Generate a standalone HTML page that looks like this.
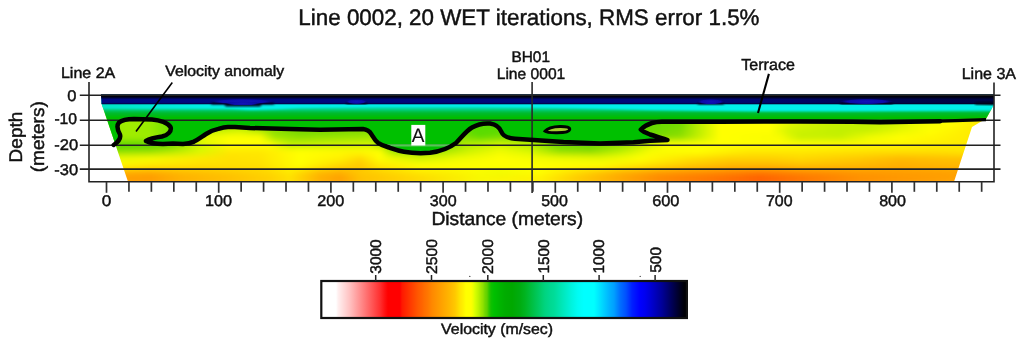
<!DOCTYPE html>
<html><head><meta charset="utf-8">
<style>
html,body{margin:0;padding:0;background:#fff;}
body{width:1024px;height:345px;overflow:hidden;position:relative;}
svg{position:absolute;left:0;top:0;will-change:transform;}
text{font-family:"Liberation Sans",sans-serif;fill:#111;stroke:#111;stroke-width:0.45px;text-rendering:geometricPrecision;}
</style></head>
<body>
<svg width="1024" height="345" viewBox="0 0 1024 345">

<defs>
  <clipPath id="clip"><path d="M101,94.5 L994,94.5 L994,104 L991,110 L986,119 L982,121 L972,127 L954,181.8 L128,181.8 L101.5,103.5 Z"/></clipPath>
  <filter id="bl" x="-5%" y="-20%" width="110%" height="140%"><feGaussianBlur stdDeviation="2 3"/></filter>
  <filter id="bl2" x="-5%" y="-20%" width="110%" height="140%"><feGaussianBlur stdDeviation="1.2 0.8"/></filter>
  <linearGradient id="yg" x1="0" y1="118" x2="0" y2="182" gradientUnits="userSpaceOnUse">
    <stop offset="0" stop-color="#b8e000"/>
    <stop offset="0.2" stop-color="#d8ea00"/>
    <stop offset="0.38" stop-color="#f4ee00"/>
    <stop offset="0.55" stop-color="#ffe600"/>
    <stop offset="0.72" stop-color="#ffd400"/>
    <stop offset="0.86" stop-color="#ffb800"/>
    <stop offset="1" stop-color="#ff9c00"/>
  </linearGradient>
  <linearGradient id="gg" x1="0" y1="103" x2="0" y2="120" gradientUnits="userSpaceOnUse">
    <stop offset="0" stop-color="#00f2f0"/>
    <stop offset="0.16" stop-color="#00eee4"/>
    <stop offset="0.29" stop-color="#00dcb0"/>
    <stop offset="0.44" stop-color="#00c860"/>
    <stop offset="0.6" stop-color="#00b828"/>
    <stop offset="0.8" stop-color="#00bc08"/><stop offset="1" stop-color="#00c000"/>
  </linearGradient>
  <linearGradient id="cyo" x1="100" y1="0" x2="1000" y2="0" gradientUnits="userSpaceOnUse"><stop offset="0" stop-color="#00e4c4"/><stop offset="0.03" stop-color="#00e8cc"/><stop offset="0.08" stop-color="#00ecdc"/><stop offset="0.14" stop-color="#00f0ea"/><stop offset="1" stop-color="#00f0ea"/></linearGradient>
  <filter id="bl3" x="-5%" y="-50%" width="110%" height="200%"><feGaussianBlur stdDeviation="3 1.3"/></filter>
  <linearGradient id="cb" x1="322" y1="0" x2="687" y2="0" gradientUnits="userSpaceOnUse">
    <stop offset="0.0000" stop-color="#ffffff"/>
    <stop offset="0.0384" stop-color="#ffffff"/>
    <stop offset="0.0438" stop-color="#fff0f0"/>
    <stop offset="0.0548" stop-color="#ffe0e0"/>
    <stop offset="0.0658" stop-color="#ffd0d0"/>
    <stop offset="0.0767" stop-color="#ffc0c0"/>
    <stop offset="0.0904" stop-color="#ffa8a8"/>
    <stop offset="0.1041" stop-color="#ff9090"/>
    <stop offset="0.1178" stop-color="#ff7878"/>
    <stop offset="0.1315" stop-color="#ff6060"/>
    <stop offset="0.1452" stop-color="#ff4848"/>
    <stop offset="0.1589" stop-color="#ff3030"/>
    <stop offset="0.1726" stop-color="#ff1010"/>
    <stop offset="0.1808" stop-color="#ff0000"/>
    <stop offset="0.2137" stop-color="#ff0000"/>
    <stop offset="0.2192" stop-color="#ff1800"/>
    <stop offset="0.2301" stop-color="#ff2800"/>
    <stop offset="0.2411" stop-color="#ff3800"/>
    <stop offset="0.2521" stop-color="#ff4800"/>
    <stop offset="0.2630" stop-color="#ff5800"/>
    <stop offset="0.2740" stop-color="#ff6400"/>
    <stop offset="0.2795" stop-color="#ff6c00"/>
    <stop offset="0.2904" stop-color="#ff7800"/>
    <stop offset="0.3014" stop-color="#ff8800"/>
    <stop offset="0.3178" stop-color="#ff9800"/>
    <stop offset="0.3342" stop-color="#ffa800"/>
    <stop offset="0.3507" stop-color="#ffb800"/>
    <stop offset="0.3644" stop-color="#ffc800"/>
    <stop offset="0.3726" stop-color="#ffd800"/>
    <stop offset="0.3781" stop-color="#ffe400"/>
    <stop offset="0.3863" stop-color="#fff000"/>
    <stop offset="0.3945" stop-color="#ffff00"/>
    <stop offset="0.4082" stop-color="#ffff00"/>
    <stop offset="0.4137" stop-color="#f0ff00"/>
    <stop offset="0.4192" stop-color="#d8ff00"/>
    <stop offset="0.4247" stop-color="#c8f800"/>
    <stop offset="0.4301" stop-color="#b8f000"/>
    <stop offset="0.4356" stop-color="#a0e800"/>
    <stop offset="0.4411" stop-color="#90e000"/>
    <stop offset="0.4466" stop-color="#70d800"/>
    <stop offset="0.4521" stop-color="#60d000"/>
    <stop offset="0.4575" stop-color="#30c800"/>
    <stop offset="0.4630" stop-color="#10c000"/>
    <stop offset="0.4712" stop-color="#00c000"/>
    <stop offset="0.4877" stop-color="#00b400"/>
    <stop offset="0.5014" stop-color="#00ac00"/>
    <stop offset="0.5205" stop-color="#00a800"/>
    <stop offset="0.5425" stop-color="#00ac10"/>
    <stop offset="0.5562" stop-color="#00b420"/>
    <stop offset="0.5699" stop-color="#00bc38"/>
    <stop offset="0.5836" stop-color="#00c450"/>
    <stop offset="0.5973" stop-color="#00cc68"/>
    <stop offset="0.6110" stop-color="#00d480"/>
    <stop offset="0.6247" stop-color="#00d890"/>
    <stop offset="0.6356" stop-color="#00dc98"/>
    <stop offset="0.6521" stop-color="#00e4b0"/>
    <stop offset="0.6685" stop-color="#00ecc8"/>
    <stop offset="0.6849" stop-color="#00f4e0"/>
    <stop offset="0.7014" stop-color="#00fcf4"/>
    <stop offset="0.7178" stop-color="#00ffff"/>
    <stop offset="0.7452" stop-color="#00ffff"/>
    <stop offset="0.7562" stop-color="#00ecff"/>
    <stop offset="0.7671" stop-color="#00d8ff"/>
    <stop offset="0.7781" stop-color="#00c4ff"/>
    <stop offset="0.7890" stop-color="#00b0ff"/>
    <stop offset="0.8000" stop-color="#00a0ff"/>
    <stop offset="0.8164" stop-color="#0070ff"/>
    <stop offset="0.8329" stop-color="#0050ff"/>
    <stop offset="0.8493" stop-color="#0020ff"/>
    <stop offset="0.8712" stop-color="#0000ff"/>
    <stop offset="0.8849" stop-color="#0000f0"/>
    <stop offset="0.8986" stop-color="#0000d8"/>
    <stop offset="0.9151" stop-color="#0000b8"/>
    <stop offset="0.9315" stop-color="#000098"/>
    <stop offset="0.9479" stop-color="#000070"/>
    <stop offset="0.9644" stop-color="#000048"/>
    <stop offset="0.9808" stop-color="#000020"/>
    <stop offset="0.9918" stop-color="#000008"/>
    <stop offset="1.0000" stop-color="#000004"/>
  </linearGradient>
</defs>

<g clip-path="url(#clip)">
<defs><linearGradient id="r0" x1="100" y1="0" x2="1000" y2="0" gradientUnits="userSpaceOnUse"><stop offset="0.0000" stop-color="#90e800"/><stop offset="0.0333" stop-color="#a0ec00"/><stop offset="0.0556" stop-color="#98ec00"/><stop offset="0.0778" stop-color="#70e000"/><stop offset="0.0889" stop-color="#a0e800"/><stop offset="0.4000" stop-color="#a0e800"/><stop offset="0.4167" stop-color="#58dc00"/><stop offset="0.4444" stop-color="#58dc00"/><stop offset="0.4667" stop-color="#a0e800"/><stop offset="0.6000" stop-color="#60d800"/><stop offset="0.6444" stop-color="#70dc00"/><stop offset="0.6667" stop-color="#c0f000"/><stop offset="0.6889" stop-color="#ffff00"/><stop offset="0.7444" stop-color="#ffff00"/><stop offset="0.7778" stop-color="#d8f400"/><stop offset="0.8111" stop-color="#c8f000"/><stop offset="0.8444" stop-color="#c0f000"/><stop offset="0.8778" stop-color="#c8f000"/><stop offset="0.9111" stop-color="#f0fc00"/><stop offset="0.9444" stop-color="#ffff00"/><stop offset="0.9778" stop-color="#ffe800"/></linearGradient><linearGradient id="r1" x1="100" y1="0" x2="1000" y2="0" gradientUnits="userSpaceOnUse"><stop offset="0.0000" stop-color="#90e800"/><stop offset="0.0333" stop-color="#a0ec00"/><stop offset="0.0556" stop-color="#98ec00"/><stop offset="0.0778" stop-color="#70e000"/><stop offset="0.0889" stop-color="#a8ec00"/><stop offset="0.1111" stop-color="#b0ec00"/><stop offset="0.1556" stop-color="#d0f400"/><stop offset="0.1889" stop-color="#90e000"/><stop offset="0.2222" stop-color="#70d800"/><stop offset="0.3000" stop-color="#80dc00"/><stop offset="0.4000" stop-color="#90e000"/><stop offset="0.4111" stop-color="#58dc00"/><stop offset="0.4444" stop-color="#58dc00"/><stop offset="0.4667" stop-color="#a0e800"/><stop offset="0.6000" stop-color="#60d800"/><stop offset="0.6444" stop-color="#80dc00"/><stop offset="0.6667" stop-color="#c0f000"/><stop offset="0.6889" stop-color="#ffff00"/><stop offset="0.7444" stop-color="#ffff00"/><stop offset="0.7667" stop-color="#d0f400"/><stop offset="0.8222" stop-color="#c0f000"/><stop offset="0.8556" stop-color="#c8f000"/><stop offset="0.8889" stop-color="#e8f800"/><stop offset="0.9222" stop-color="#ffff00"/><stop offset="0.9778" stop-color="#ffe800"/></linearGradient><linearGradient id="r2" x1="100" y1="0" x2="1000" y2="0" gradientUnits="userSpaceOnUse"><stop offset="0.0000" stop-color="#60d800"/><stop offset="0.0222" stop-color="#a0ec00"/><stop offset="0.0556" stop-color="#a0ec00"/><stop offset="0.0778" stop-color="#80e000"/><stop offset="0.0889" stop-color="#b8f000"/><stop offset="0.1222" stop-color="#f0fc00"/><stop offset="0.1444" stop-color="#ffff00"/><stop offset="0.1778" stop-color="#ffff00"/><stop offset="0.1944" stop-color="#a0e800"/><stop offset="0.2222" stop-color="#90e000"/><stop offset="0.3000" stop-color="#a0e800"/><stop offset="0.4000" stop-color="#90e000"/><stop offset="0.4222" stop-color="#60dc00"/><stop offset="0.4556" stop-color="#80e000"/><stop offset="0.4778" stop-color="#a0e800"/><stop offset="0.6000" stop-color="#70d800"/><stop offset="0.6444" stop-color="#90e000"/><stop offset="0.6667" stop-color="#c8f000"/><stop offset="0.6889" stop-color="#ffff00"/><stop offset="0.7556" stop-color="#f8fc00"/><stop offset="0.7778" stop-color="#c8f000"/><stop offset="0.8222" stop-color="#c8f000"/><stop offset="0.8556" stop-color="#f0fc00"/><stop offset="0.8889" stop-color="#ffff00"/><stop offset="0.9778" stop-color="#ffe800"/></linearGradient><linearGradient id="r3" x1="100" y1="0" x2="1000" y2="0" gradientUnits="userSpaceOnUse"><stop offset="0.0000" stop-color="#40d000"/><stop offset="0.0222" stop-color="#50d400"/><stop offset="0.0778" stop-color="#60d800"/><stop offset="0.1111" stop-color="#d8f800"/><stop offset="0.1444" stop-color="#ffff00"/><stop offset="0.1889" stop-color="#ffff00"/><stop offset="0.2111" stop-color="#c0f000"/><stop offset="0.3000" stop-color="#d0f400"/><stop offset="0.3167" stop-color="#80dc00"/><stop offset="0.3889" stop-color="#80dc00"/><stop offset="0.4056" stop-color="#b0ec00"/><stop offset="0.4444" stop-color="#d0f400"/><stop offset="0.4778" stop-color="#b0ec00"/><stop offset="0.5056" stop-color="#70dc00"/><stop offset="0.5444" stop-color="#68d800"/><stop offset="0.5778" stop-color="#90e000"/><stop offset="0.6056" stop-color="#c8f000"/><stop offset="0.6278" stop-color="#ffff00"/><stop offset="0.6667" stop-color="#ffff00"/><stop offset="0.7222" stop-color="#ffff00"/><stop offset="0.7778" stop-color="#ffff00"/><stop offset="0.8667" stop-color="#fff800"/><stop offset="0.9778" stop-color="#ffe800"/></linearGradient><linearGradient id="r4" x1="100" y1="0" x2="1000" y2="0" gradientUnits="userSpaceOnUse"><stop offset="0.0000" stop-color="#80e000"/><stop offset="0.0556" stop-color="#90e000"/><stop offset="0.1111" stop-color="#d8f800"/><stop offset="0.1444" stop-color="#ffe800"/><stop offset="0.1778" stop-color="#ffe800"/><stop offset="0.2222" stop-color="#ffff00"/><stop offset="0.2778" stop-color="#fff800"/><stop offset="0.3111" stop-color="#ffff00"/><stop offset="0.3278" stop-color="#90e000"/><stop offset="0.3778" stop-color="#a0e800"/><stop offset="0.4111" stop-color="#d0f400"/><stop offset="0.4444" stop-color="#f0fc00"/><stop offset="0.4778" stop-color="#d8f800"/><stop offset="0.5111" stop-color="#90e000"/><stop offset="0.5444" stop-color="#88dc00"/><stop offset="0.5778" stop-color="#b8f000"/><stop offset="0.6111" stop-color="#f8fc00"/><stop offset="0.6667" stop-color="#ffff00"/><stop offset="0.7222" stop-color="#ffe800"/><stop offset="0.7778" stop-color="#ffe800"/><stop offset="0.8667" stop-color="#ffe000"/><stop offset="0.9222" stop-color="#ffe000"/><stop offset="0.9778" stop-color="#ffe800"/></linearGradient><linearGradient id="r5" x1="100" y1="0" x2="1000" y2="0" gradientUnits="userSpaceOnUse"><stop offset="0.0000" stop-color="#e8f800"/><stop offset="0.0556" stop-color="#f8fc00"/><stop offset="0.1111" stop-color="#ffe800"/><stop offset="0.1444" stop-color="#ffe000"/><stop offset="0.1778" stop-color="#ffe400"/><stop offset="0.2222" stop-color="#ffff00"/><stop offset="0.2667" stop-color="#fff000"/><stop offset="0.2889" stop-color="#ffd800"/><stop offset="0.3111" stop-color="#ffff00"/><stop offset="0.3556" stop-color="#d0f400"/><stop offset="0.4000" stop-color="#f0fc00"/><stop offset="0.4444" stop-color="#ffff00"/><stop offset="0.5111" stop-color="#f0fc00"/><stop offset="0.5556" stop-color="#e8f800"/><stop offset="0.6000" stop-color="#ffff00"/><stop offset="0.6556" stop-color="#ffe000"/><stop offset="0.7000" stop-color="#ffd000"/><stop offset="0.7444" stop-color="#ffd000"/><stop offset="0.7778" stop-color="#ffd800"/><stop offset="0.8444" stop-color="#ffc800"/><stop offset="0.8889" stop-color="#ffb800"/><stop offset="0.9444" stop-color="#ffc000"/></linearGradient><linearGradient id="r6" x1="100" y1="0" x2="1000" y2="0" gradientUnits="userSpaceOnUse"><stop offset="0.0000" stop-color="#ffff00"/><stop offset="0.0556" stop-color="#ffe800"/><stop offset="0.1111" stop-color="#ffe000"/><stop offset="0.1778" stop-color="#ffe000"/><stop offset="0.2222" stop-color="#ffff00"/><stop offset="0.2667" stop-color="#ffd800"/><stop offset="0.2889" stop-color="#ffc800"/><stop offset="0.3111" stop-color="#ffe800"/><stop offset="0.3556" stop-color="#ffff00"/><stop offset="0.5556" stop-color="#ffff00"/><stop offset="0.6111" stop-color="#ffe000"/><stop offset="0.6556" stop-color="#ffc800"/><stop offset="0.7000" stop-color="#ffb800"/><stop offset="0.7444" stop-color="#ffb800"/><stop offset="0.7778" stop-color="#ffc000"/><stop offset="0.8444" stop-color="#ffb800"/><stop offset="0.8889" stop-color="#ffb000"/><stop offset="0.9444" stop-color="#ffb800"/></linearGradient><linearGradient id="r7" x1="100" y1="0" x2="1000" y2="0" gradientUnits="userSpaceOnUse"><stop offset="0.0000" stop-color="#ffb000"/><stop offset="0.0556" stop-color="#ffa800"/><stop offset="0.0889" stop-color="#ffb800"/><stop offset="0.1444" stop-color="#ffc800"/><stop offset="0.1889" stop-color="#ffd800"/><stop offset="0.2111" stop-color="#ffe800"/><stop offset="0.2444" stop-color="#ffb800"/><stop offset="0.2667" stop-color="#ffb000"/><stop offset="0.2889" stop-color="#ffc800"/><stop offset="0.3111" stop-color="#ffd000"/><stop offset="0.3556" stop-color="#ffe800"/><stop offset="0.4222" stop-color="#f8fc00"/><stop offset="0.4444" stop-color="#f0fc00"/><stop offset="0.4889" stop-color="#ffff00"/><stop offset="0.5333" stop-color="#ffd800"/><stop offset="0.5778" stop-color="#ffb000"/><stop offset="0.6222" stop-color="#ff9800"/><stop offset="0.6889" stop-color="#ff8800"/><stop offset="0.7333" stop-color="#ff7800"/><stop offset="0.7778" stop-color="#ff8800"/><stop offset="0.8444" stop-color="#ff9800"/><stop offset="0.9444" stop-color="#ffa000"/></linearGradient><linearGradient id="r8" x1="100" y1="0" x2="1000" y2="0" gradientUnits="userSpaceOnUse"><stop offset="0.0000" stop-color="#ffa000"/><stop offset="0.0556" stop-color="#ff9c00"/><stop offset="0.0889" stop-color="#ffb000"/><stop offset="0.1444" stop-color="#ffc000"/><stop offset="0.1889" stop-color="#ffd000"/><stop offset="0.2111" stop-color="#ffe000"/><stop offset="0.2444" stop-color="#ffb000"/><stop offset="0.2667" stop-color="#ffa000"/><stop offset="0.2889" stop-color="#ffc000"/><stop offset="0.3333" stop-color="#ffd000"/><stop offset="0.4222" stop-color="#f8f800"/><stop offset="0.4889" stop-color="#fff000"/><stop offset="0.5333" stop-color="#ffc800"/><stop offset="0.5778" stop-color="#ffa800"/><stop offset="0.6222" stop-color="#ff8800"/><stop offset="0.6889" stop-color="#ff7000"/><stop offset="0.7333" stop-color="#ff6000"/><stop offset="0.7778" stop-color="#ff7400"/><stop offset="0.8444" stop-color="#ff9000"/><stop offset="0.9444" stop-color="#ffa000"/></linearGradient></defs>
<g filter="url(#bl)">
<rect x="80" y="100" width="940" height="27.5" fill="url(#r0)"/>
<rect x="80" y="127" width="940" height="7.5" fill="url(#r1)"/>
<rect x="80" y="134" width="940" height="7.5" fill="url(#r2)"/>
<rect x="80" y="141" width="940" height="7.5" fill="url(#r3)"/>
<rect x="80" y="148" width="940" height="7.5" fill="url(#r4)"/>
<rect x="80" y="155" width="940" height="7.5" fill="url(#r5)"/>
<rect x="80" y="162" width="940" height="7.5" fill="url(#r6)"/>
<rect x="80" y="169" width="940" height="6.5" fill="url(#r7)"/>
<rect x="80" y="175" width="940" height="11.5" fill="url(#r8)"/>
</g>
<path d="M113.7,145 C118,142 121,138 120,134.5 C118,131 116,126 119,122.5 C122,120 128,119 134,119 L152,119.4 C160,120 168,123 170.5,127 C172,131 168,135 162,136.5 C155,137.5 150,138.5 146,141 C150,143 156,144 163,144 L173,143.6 L183,144.1 C188,143.8 191,143 194,141.6 C198,139.5 202,136.5 206,134 C210,131.5 214,129.8 218.3,128.9 C222,127.8 224,127.2 228,127 L235,127 L250,128 L290,129 L320,129.7 L363,129 C367,129.4 369.5,131 371.5,134.3 C373.5,137.5 375,140.5 378,142.8 C382,145.5 386,146.5 390,147.8 C394,149.2 398,150.8 404,151.8 C412,153.2 420,153.5 430,152.8 C440,151.5 450,147.5 456,143 C462,137 466,131 472,127.5 C478,124 484,123 490,123.5 C497,124.5 500,128 501.5,132 C503,136 507,138 515,138.7 L530,139.7 L563.5,141.9 L600,143.4 L633.5,142.2 C645,141 657,140.3 667.5,140 C664,138.6 656,136.5 650,134.5 C646,133 642.5,131.5 640.8,129.6 C643,127.5 647,124.5 652,123 C655,122.2 658,121.8 662,121.7 L720,121.7 L800,121.4 L852,121.7 L880,122.3 L940,121.2 L986,119.6 L1010,119 L1010,90 L80,90 L80,145 Z" fill="url(#gg)" filter="url(#bl2)"/>
<path d="M95,103 L1000,103 L1000,110.5 L850,111.2 L750,111.2 L650,110 L560,107.5 L480,106 L380,106 L300,107.5 L280,109 L250,110 L230,108.5 L150,108.5 L95,108 Z" fill="url(#cyo)" filter="url(#bl3)"/>
<linearGradient id="nvh" x1="100" y1="0" x2="1000" y2="0" gradientUnits="userSpaceOnUse"><stop offset="0" stop-color="#000880"/><stop offset="0.6667" stop-color="#000878"/><stop offset="0.7778" stop-color="#000664"/><stop offset="0.8889" stop-color="#00054c"/><stop offset="1" stop-color="#000440"/></linearGradient>
<linearGradient id="nvv" x1="0" y1="94" x2="0" y2="104.2" gradientUnits="userSpaceOnUse"><stop offset="0" stop-color="#000008" stop-opacity="1"/><stop offset="0.28" stop-color="#000008" stop-opacity="0.95"/><stop offset="0.42" stop-color="#000008" stop-opacity="0.35"/><stop offset="0.54" stop-color="#000008" stop-opacity="0"/><stop offset="0.82" stop-color="#000008" stop-opacity="0"/><stop offset="0.92" stop-color="#000008" stop-opacity="0.35"/><stop offset="1" stop-color="#000008" stop-opacity="0.6"/></linearGradient>
<rect x="80" y="94" width="940" height="10.2" fill="url(#nvh)"/>
<rect x="80" y="94" width="940" height="10.2" fill="url(#nvv)"/>
<radialGradient id="bb"><stop offset="0" stop-color="#1212b8"/><stop offset="0.7" stop-color="#0c0ca8"/><stop offset="1" stop-color="#080890" stop-opacity="0"/></radialGradient>
<path d="M212.5,102.2 L272.7,102.2 L274.7,104.4 L262,104.4 L260,106.5 L226,106.5 L224,104.4 L210.5,104.4 Z" fill="#000020" filter="url(#bl2)"/><ellipse cx="242.6" cy="101.55" rx="32.099999999999994" ry="2.7500000000000027" fill="url(#bb)"/><ellipse cx="243.0" cy="103.4" rx="17.0" ry="2.2" fill="url(#bb)"/>
<path d="M347.5,102.0 L365.5,102.0 L367.5,104.2 L345.5,104.2 Z" fill="#000020" filter="url(#bl2)"/><ellipse cx="356.5" cy="101.7" rx="11.0" ry="2.4000000000000012" fill="url(#bb)"/>
<path d="M699,102.4 L722.5,102.4 L724.5,104.60000000000001 L697,104.60000000000001 Z" fill="#000020" filter="url(#bl2)"/><ellipse cx="710.75" cy="101.75" rx="13.75" ry="2.7500000000000027" fill="url(#bb)"/>
<path d="M841.5,102.2 L891.5,102.2 L893.5,104.4 L839.5,104.4 Z" fill="#000020" filter="url(#bl2)"/><ellipse cx="866.5" cy="101.55" rx="27.0" ry="2.7500000000000027" fill="url(#bb)"/>
<path d="M975,102.6 L994,102.2 L994,105 L975,104.6 Z" fill="#000010" filter="url(#bl2)"/>
</g>
<g stroke="#222" stroke-width="1.6">
<line x1="79.8" y1="95.3" x2="1000.5" y2="95.3"/>
<line x1="79.8" y1="120.3" x2="1000.5" y2="120.3"/>
<line x1="79.8" y1="145.3" x2="1000.5" y2="145.3"/>
<line x1="79.8" y1="169.1" x2="1000.5" y2="169.1"/>
</g>
<path d="M387,144.2 L452,144.2 L452,146.4 L387,146.4 Z" fill="#58c458"/>
<path d="M89,82 V181.8 H994 V82.5" stroke="#222" stroke-width="1.6" fill="none"/>
<line x1="532.1" y1="82" x2="532.1" y2="193" stroke="#2a2a2a" stroke-width="1.6"/>
<path d="M113.7,145 C118,142 121,138 120,134.5 C118,131 116,126 119,122.5 C122,120 128,119 134,119 L152,119.4 C160,120 168,123 170.5,127 C172,131 168,135 162,136.5 C155,137.5 150,138.5 146,141 C150,143 156,144 163,144 L173,143.6 L183,144.1 C188,143.8 191,143 194,141.6 C198,139.5 202,136.5 206,134 C210,131.5 214,129.8 218.3,128.9 C222,127.8 224,127.2 228,127 L235,127 L250,128 L290,129 L320,129.7 L363,129 C367,129.4 369.5,131 371.5,134.3 C373.5,137.5 375,140.5 378,142.8 C382,145.5 386,146.5 390,147.8 C394,149.2 398,150.8 404,151.8 C412,153.2 420,153.5 430,152.8 C440,151.5 450,147.5 456,143 C462,137 466,131 472,127.5 C478,124 484,123 490,123.5 C497,124.5 500,128 501.5,132 C503,136 507,138 515,138.7 L530,139.7 L563.5,141.9 L600,143.4 L633.5,142.2 C645,141 657,140.3 667.5,140 C664,138.6 656,136.5 650,134.5 C646,133 642.5,131.5 640.8,129.6 C643,127.5 647,124.5 652,123 C655,122.2 658,121.8 662,121.7 L720,121.7 L800,121.4 L852,121.7 L880,122.3 L940,121.2" fill="none" stroke="#000" stroke-width="4.5" stroke-linejoin="round" stroke-linecap="round"/>
<path d="M940,121.2 L986,119.6" fill="none" stroke="#000" stroke-width="3.2"/>
<path d="M545,131.2 C547.5,128 552,126.6 560,126.4 C567,126.3 570,127.5 569.7,129.6 C569.3,131.7 565,132.7 557,132.8 C550,132.9 546.5,132.5 545,131.2 Z" fill="#a4d030" stroke="#000" stroke-width="3"/>
<line x1="172.3" y1="82.6" x2="136" y2="131.5" stroke="#000" stroke-width="1.6"/>
<line x1="768.9" y1="73.9" x2="758" y2="113" stroke="#000" stroke-width="2.1"/>
<rect x="411.3" y="124.9" width="14" height="20.6" fill="#fff"/>
<g stroke="#333" stroke-width="1.7">
<line x1="106.50" y1="181.8" x2="106.50" y2="192.8"/>
<line x1="128.94" y1="181.8" x2="128.94" y2="191.8"/>
<line x1="151.38" y1="181.8" x2="151.38" y2="191.8"/>
<line x1="173.82" y1="181.8" x2="173.82" y2="191.8"/>
<line x1="196.26" y1="181.8" x2="196.26" y2="191.8"/>
<line x1="218.70" y1="181.8" x2="218.70" y2="192.8"/>
<line x1="241.14" y1="181.8" x2="241.14" y2="191.8"/>
<line x1="263.58" y1="181.8" x2="263.58" y2="191.8"/>
<line x1="286.02" y1="181.8" x2="286.02" y2="191.8"/>
<line x1="308.46" y1="181.8" x2="308.46" y2="191.8"/>
<line x1="330.90" y1="181.8" x2="330.90" y2="192.8"/>
<line x1="353.34" y1="181.8" x2="353.34" y2="191.8"/>
<line x1="375.78" y1="181.8" x2="375.78" y2="191.8"/>
<line x1="398.22" y1="181.8" x2="398.22" y2="191.8"/>
<line x1="420.66" y1="181.8" x2="420.66" y2="191.8"/>
<line x1="443.10" y1="181.8" x2="443.10" y2="192.8"/>
<line x1="465.54" y1="181.8" x2="465.54" y2="191.8"/>
<line x1="487.98" y1="181.8" x2="487.98" y2="191.8"/>
<line x1="510.42" y1="181.8" x2="510.42" y2="191.8"/>
<line x1="532.86" y1="181.8" x2="532.86" y2="191.8"/>
<line x1="555.30" y1="181.8" x2="555.30" y2="192.8"/>
<line x1="577.74" y1="181.8" x2="577.74" y2="191.8"/>
<line x1="600.18" y1="181.8" x2="600.18" y2="191.8"/>
<line x1="622.62" y1="181.8" x2="622.62" y2="191.8"/>
<line x1="645.06" y1="181.8" x2="645.06" y2="191.8"/>
<line x1="667.50" y1="181.8" x2="667.50" y2="192.8"/>
<line x1="689.94" y1="181.8" x2="689.94" y2="191.8"/>
<line x1="712.38" y1="181.8" x2="712.38" y2="191.8"/>
<line x1="734.82" y1="181.8" x2="734.82" y2="191.8"/>
<line x1="757.26" y1="181.8" x2="757.26" y2="191.8"/>
<line x1="779.70" y1="181.8" x2="779.70" y2="192.8"/>
<line x1="802.14" y1="181.8" x2="802.14" y2="191.8"/>
<line x1="824.58" y1="181.8" x2="824.58" y2="191.8"/>
<line x1="847.02" y1="181.8" x2="847.02" y2="191.8"/>
<line x1="869.46" y1="181.8" x2="869.46" y2="191.8"/>
<line x1="891.90" y1="181.8" x2="891.90" y2="192.8"/>
<line x1="914.34" y1="181.8" x2="914.34" y2="191.8"/>
<line x1="936.78" y1="181.8" x2="936.78" y2="191.8"/>
<line x1="959.22" y1="181.8" x2="959.22" y2="191.8"/>
<line x1="981.66" y1="181.8" x2="981.66" y2="191.8"/>
</g>
<rect x="321.3" y="281" width="365.6" height="37" fill="url(#cb)" stroke="#111" stroke-width="2.2"/>
<g stroke="#222" stroke-width="1.5">
<line x1="375.7" y1="275" x2="375.7" y2="281"/>
<line x1="431.5" y1="275" x2="431.5" y2="281"/>
<line x1="487.8" y1="275" x2="487.8" y2="281"/>
<line x1="543.3" y1="275" x2="543.3" y2="281"/>
<line x1="599.1" y1="275" x2="599.1" y2="281"/>
<line x1="655.1" y1="275" x2="655.1" y2="281"/>
</g>
<circle cx="469.8" cy="276.4" r="0.7" fill="#444"/><circle cx="640.2" cy="276.4" r="0.7" fill="#444"/>
<text x="298.37" y="25.40" font-size="22.49" textLength="461.13" lengthAdjust="spacingAndGlyphs">Line 0002, 20 WET iterations, RMS error 1.5%</text>
<text x="60.93" y="77.75" font-size="15.25" textLength="54.40" lengthAdjust="spacingAndGlyphs">Line 2A</text>
<text x="165.23" y="75.50" font-size="15.04" textLength="119.00" lengthAdjust="spacingAndGlyphs">Velocity anomaly</text>
<text x="511.44" y="61.60" font-size="15.32" textLength="38.51" lengthAdjust="spacingAndGlyphs">BH01</text>
<text x="496.72" y="79.30" font-size="15.46" textLength="68.54" lengthAdjust="spacingAndGlyphs">Line 0001</text>
<text x="741.25" y="69.70" font-size="15.92" textLength="53.64" lengthAdjust="spacingAndGlyphs">Terrace</text>
<text x="961.69" y="78.70" font-size="15.80" textLength="54.35" lengthAdjust="spacingAndGlyphs">Line 3A</text>
<text x="411.66" y="141.60" font-size="19.62" textLength="12.67" lengthAdjust="spacingAndGlyphs" style="stroke-width:0.1px">A</text>
<text x="431.42" y="224.90" font-size="18.77" textLength="151.67" lengthAdjust="spacingAndGlyphs">Distance (meters)</text>
<text x="67.35" y="101.20" font-size="15.50" textLength="9.19" lengthAdjust="spacingAndGlyphs">0</text>
<text x="54.40" y="124.30" font-size="15.50" textLength="22.71" lengthAdjust="spacingAndGlyphs">-10</text>
<text x="54.27" y="150.20" font-size="15.50" textLength="23.88" lengthAdjust="spacingAndGlyphs">-20</text>
<text x="54.27" y="174.60" font-size="15.50" textLength="23.77" lengthAdjust="spacingAndGlyphs">-30</text>
<text x="101.73" y="206.40" font-size="15.50" textLength="9.54" lengthAdjust="spacingAndGlyphs">0</text>
<text x="205.06" y="206.40" font-size="15.50" textLength="27.07" lengthAdjust="spacingAndGlyphs">100</text>
<text x="317.28" y="206.40" font-size="15.50" textLength="27.05" lengthAdjust="spacingAndGlyphs">200</text>
<text x="429.89" y="206.40" font-size="15.50" textLength="26.84" lengthAdjust="spacingAndGlyphs">300</text>
<text x="541.16" y="206.40" font-size="15.50" textLength="26.66" lengthAdjust="spacingAndGlyphs">500</text>
<text x="652.17" y="206.40" font-size="15.50" textLength="27.27" lengthAdjust="spacingAndGlyphs">600</text>
<text x="765.98" y="206.40" font-size="15.50" textLength="26.64" lengthAdjust="spacingAndGlyphs">700</text>
<text x="879.15" y="206.40" font-size="15.50" textLength="26.83" lengthAdjust="spacingAndGlyphs">800</text>
<text transform="translate(22.30,162.46) rotate(-90) scale(1,0.959)" font-size="19.08" textLength="50.90" lengthAdjust="spacingAndGlyphs">Depth</text>
<text transform="translate(43.90,172.28) rotate(-90) scale(1,0.969)" font-size="19.09" textLength="71.07" lengthAdjust="spacingAndGlyphs">(meters)</text>
<text transform="translate(381.00,273.69) rotate(-90) scale(1,1.003)" font-size="15.41" textLength="34.29" lengthAdjust="spacingAndGlyphs">3000</text>
<text transform="translate(436.90,273.89) rotate(-90) scale(1,0.986)" font-size="15.69" textLength="34.90" lengthAdjust="spacingAndGlyphs">2500</text>
<text transform="translate(493.00,273.89) rotate(-90) scale(1,0.986)" font-size="15.69" textLength="34.90" lengthAdjust="spacingAndGlyphs">2000</text>
<text transform="translate(548.60,273.47) rotate(-90) scale(1,1.010)" font-size="15.31" textLength="34.06" lengthAdjust="spacingAndGlyphs">1500</text>
<text transform="translate(604.40,273.47) rotate(-90) scale(1,1.010)" font-size="15.31" textLength="34.06" lengthAdjust="spacingAndGlyphs">1000</text>
<text transform="translate(661.40,272.72) rotate(-90) scale(1,1.003)" font-size="15.42" textLength="25.72" lengthAdjust="spacingAndGlyphs">500</text>
<text x="441.13" y="333.80" font-size="15.04" textLength="111.95" lengthAdjust="spacingAndGlyphs">Velocity (m/sec)</text>
</svg>
</body></html>
